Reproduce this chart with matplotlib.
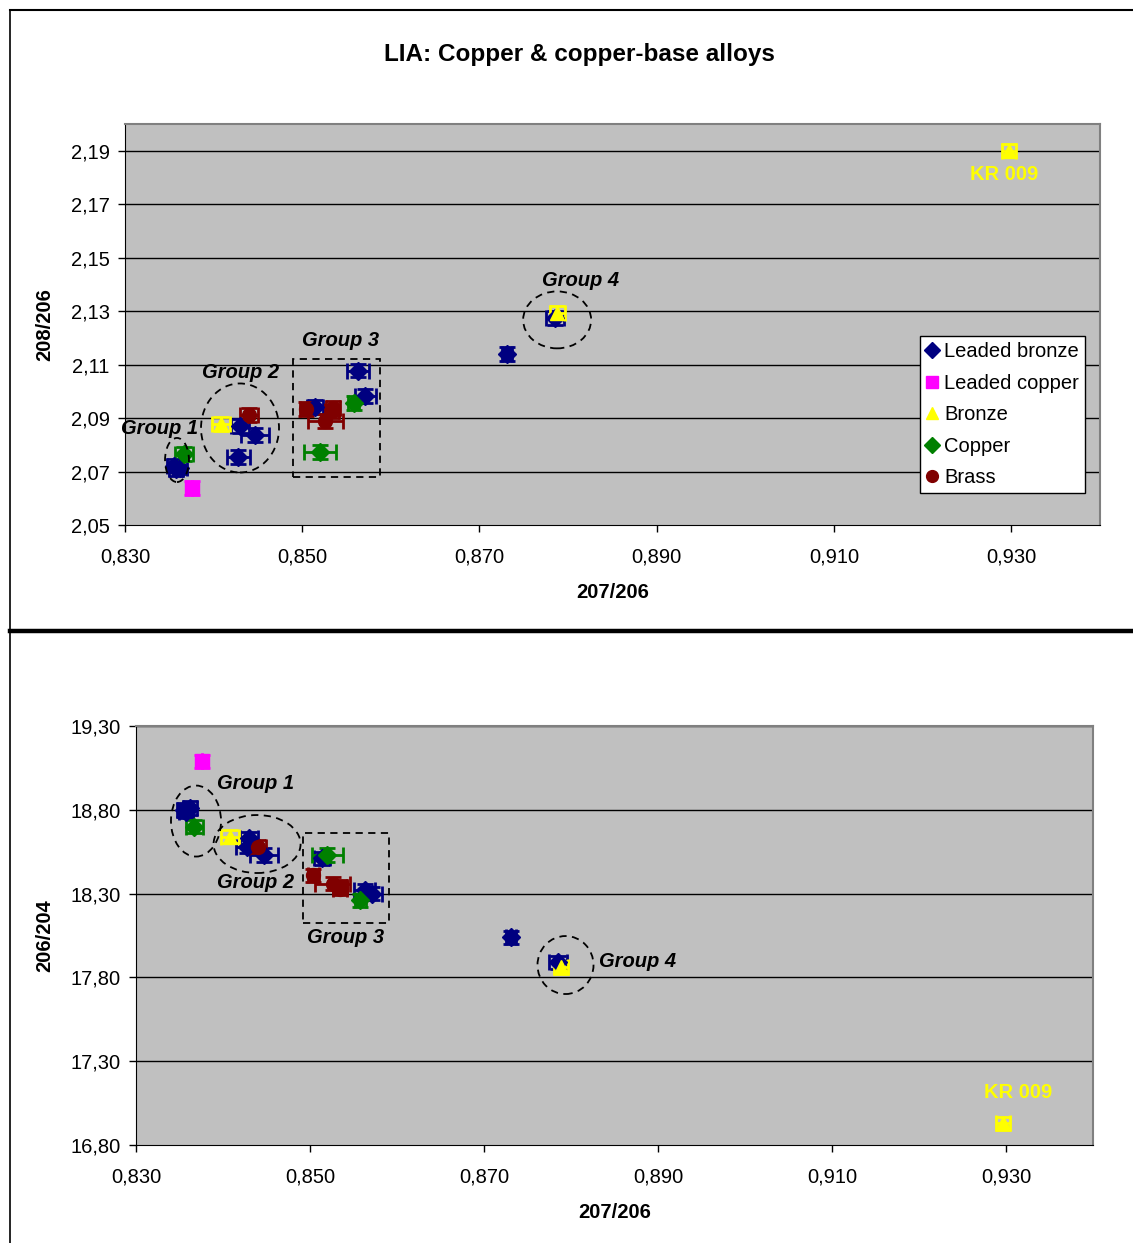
import matplotlib
matplotlib.use("Agg")
import matplotlib.pyplot as plt
from matplotlib.patches import Ellipse, Rectangle
from matplotlib.lines import Line2D
from matplotlib.ticker import FuncFormatter

plt.rcParams['font.family'] = ['Liberation Sans', 'DejaVu Sans']

# --- data ---
names = ["Leaded bronze", "Leaded copper", "Bronze", "Copper", "Brass"]

lb_x = [0.8355, 0.8362, 0.8358, 0.8430, 0.8447, 0.8428, 0.8514, 0.8563, 0.8571, 0.8731, 0.8785]
lb_208 = [2.0722, 2.0715, 2.0710, 2.0871, 2.0837, 2.0755, 2.0942, 2.1077, 2.0983, 2.1140, 2.1275]
lb_206 = [18.80, 18.81, 18.79, 18.63, 18.53, 18.58, 18.51, 18.32, 18.30, 18.04, 17.89]
lb_xerr = [0.0008, 0.0008, 0.0008, 0.0010, 0.0016, 0.0013, 0.0009, 0.0012, 0.0012, 0.0006, 0.0010]

lc_x = [0.8376]
lc_208 = [2.0639]
lc_206 = [19.09]
lc_xerr = [0.0]

br_x = [0.8408, 0.8788, 0.9297]
br_208 = [2.0878, 2.1294, 2.1900]
br_206 = [18.64, 17.86, 16.93]
br_xerr = [0.0010, 0.0008, 0.0008]

cu_x = [0.8367, 0.8520, 0.8558]
cu_208 = [2.0766, 2.0773, 2.0957]
cu_206 = [18.70, 18.53, 18.26]
cu_xerr = [0.0010, 0.0018, 0.0006]

bs_x = [0.8440, 0.8504, 0.8526, 0.8535, 0.8534]
bs_208 = [2.0912, 2.0934, 2.0889, 2.0938, 2.0925]
bs_206 = [18.58, 18.41, 18.36, 18.33, 18.34]
bs_xerr = [0.0010, 0.0006, 0.0020, 0.0008, 0.0008]

yerr_208 = 0.0025
yerr_206 = 0.04

colors = ["#000080", "#FF00FF", "#FFFF00", "#008000", "#800000"]
markers = ["D", "s", "^", "D", "o"]
msizes = [9, 10, 10, 9, 10]

xs = [lb_x, lc_x, br_x, cu_x, bs_x]
xerrs = [lb_xerr, lc_xerr, br_xerr, cu_xerr, bs_xerr]
ys_top = [lb_208, lc_208, br_208, cu_208, bs_208]
ys_bot = [lb_206, lc_206, br_206, cu_206, bs_206]

fig = plt.figure(figsize=(11.33, 12.43), dpi=100)

# outer frame lines
fig.add_artist(Line2D([0.0088, 0.0088], [0, 0.992], transform=fig.transFigure, color="black", lw=1.2))
fig.add_artist(Line2D([0.0088, 1], [0.992, 0.992], transform=fig.transFigure, color="black", lw=1.5))
fig.add_artist(Line2D([0.0088, 1], [0.4924, 0.4924], transform=fig.transFigure, color="black", lw=3.2))

fig.text(0.511, 0.9558, "LIA: Copper & copper-base alloys", ha="center", va="center",
         fontsize=17.5, fontweight="bold")


def style(ax, ylim, yticks, yfmt, ylabel):
    ax.set_facecolor("#C0C0C0")
    ax.set_xlim(0.830, 0.940)
    ax.set_ylim(*ylim)
    ax.set_xticks([0.830, 0.850, 0.870, 0.890, 0.910, 0.930])
    ax.set_yticks(yticks)
    ax.xaxis.set_major_formatter(FuncFormatter(lambda v, p: f"{v:.3f}".replace(".", ",")))
    ax.yaxis.set_major_formatter(FuncFormatter(lambda v, p: yfmt.format(v).replace(".", ",")))
    ax.tick_params(labelsize=14.5, direction="out", length=5, width=1)
    ax.tick_params(axis="x", pad=11)
    ax.tick_params(axis="y", pad=6)
    for t in yticks[1:]:
        ax.axhline(t, color="black", lw=1, zorder=1)
    for s in ["top", "right"]:
        ax.spines[s].set_color("#808080")
        ax.spines[s].set_linewidth(1.5)
    for s in ["left", "bottom"]:
        ax.spines[s].set_color("black")
    ax.set_xlabel("207/206", fontsize=14.5, fontweight="bold", labelpad=12)
    ax.set_ylabel(ylabel, fontsize=14.5, fontweight="bold", labelpad=12)


def draw(ax, ys, yerr):
    for x, y, xe, c, m, ms in zip(xs, ys, xerrs, colors, markers, msizes):
        ax.errorbar(x, y, xerr=xe, yerr=yerr, fmt=m, color=c, ms=ms, mec=c,
                    ecolor=c, elinewidth=2, capsize=5.5, capthick=2, zorder=3)


def group(ax, kind, cx, cy, w, h):
    if kind == "e":
        p = Ellipse((cx, cy), w, h, fill=False, ls=(0, (4, 3)), lw=1.3, ec="black", zorder=4)
    else:
        p = Rectangle((cx, cy), w, h, fill=False, ls=(0, (4, 3)), lw=1.3, ec="black", zorder=4)
    ax.add_patch(p)


lab = dict(fontsize=14.5, fontweight="bold", fontstyle="italic", ha="center", va="center", zorder=5)
kr = dict(fontsize=14.5, fontweight="bold", color="#FFFF00", ha="center", va="center", zorder=5)

# top panel
ax1 = fig.add_axes([0.1103, 0.5776, 0.8605, 0.3226])
style(ax1, (2.05, 2.20), [2.05, 2.07, 2.09, 2.11, 2.13, 2.15, 2.17, 2.19], "{:.2f}", "208/206")
draw(ax1, ys_top, yerr_208)
group(ax1, "e", 0.83587, 2.07433, 0.0027, 0.0165)
group(ax1, "e", 0.84298, 2.08631, 0.0088, 0.0333)
group(ax1, "r", 0.84896, 2.06797, 0.00982, 0.04417)
group(ax1, "e", 0.87876, 2.12674, 0.00767, 0.0213)
ax1.text(0.83395, 2.0863, "Group 1", **lab)
ax1.text(0.84309, 2.1069, "Group 2", **lab)
ax1.text(0.85438, 2.1189, "Group 3", **lab)
ax1.text(0.88135, 2.1413, "Group 4", **lab)
ax1.text(0.92921, 2.1810, "KR 009", **kr)

handles = [Line2D([], [], ls="none", marker=m, color=c, mec=c, ms=ms * 0.85)
           for m, c, ms in zip(markers, colors, msizes)]
leg = ax1.legend(handles, names, loc="upper right", bbox_to_anchor=(0.9846, 0.4713),
                 fontsize=14.5, frameon=True, fancybox=False, edgecolor="black",
                 handlelength=0.6, handletextpad=0.3, borderpad=0.3, labelspacing=0.62,
                 borderaxespad=0, framealpha=1)
leg.get_frame().set_linewidth(1)

# bottom panel
ax2 = fig.add_axes([0.1200, 0.0788, 0.8447, 0.3371])
style(ax2, (16.80, 19.30), [16.80, 17.30, 17.80, 18.30, 18.80, 19.30], "{:.2f}", "206/204")
draw(ax2, ys_bot, yerr_206)
group(ax2, "e", 0.83690, 18.733, 0.00575, 0.4236)
group(ax2, "e", 0.84392, 18.596, 0.0100, 0.346)
group(ax2, "r", 0.84922, 18.1246, 0.00989, 0.537)
group(ax2, "e", 0.87937, 17.874, 0.00644, 0.346)
ax2.text(0.84369, 18.960, "Group 1", **lab)
ax2.text(0.84369, 18.369, "Group 2", **lab)
ax2.text(0.85405, 18.041, "Group 3", **lab)
ax2.text(0.88765, 17.898, "Group 4", **lab)
ax2.text(0.93138, 17.116, "KR 009", **kr)

fig.savefig("out.png", dpi=100)
